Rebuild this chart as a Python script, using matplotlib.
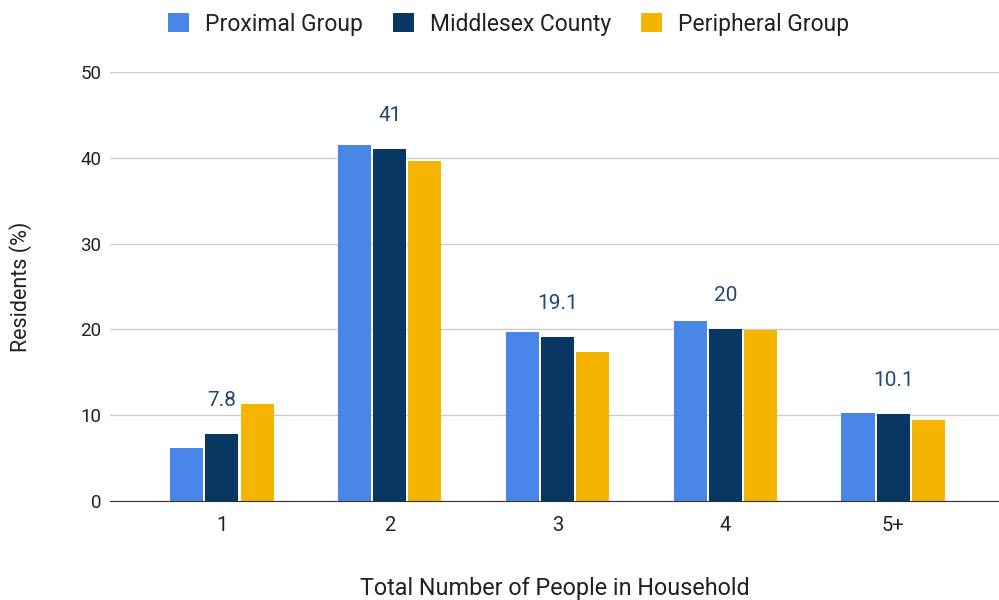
import matplotlib
matplotlib.use("Agg")
import matplotlib.pyplot as plt
import numpy as np

plt.rcParams['font.family'] = ['Roboto', 'DejaVu Sans']

categories = ["1", "2", "3", "4", "5+"]
series_names = ["Proximal Group", "Middlesex County", "Peripheral Group"]
proximal = [6.2, 41.5, 19.7, 21.0, 10.3]
middlesex = [7.8, 41, 19.1, 20, 10.1]
peripheral = [11.3, 39.6, 17.4, 19.9, 9.4]
colors = ["#4a86e8", "#073763", "#f4b400"]
yticks = [0, 10, 20, 30, 40, 50]

fig = plt.figure(figsize=(9.99, 6.0), dpi=100)
ax = fig.add_axes([0.110, 0.165, 0.890, 0.715])

x = np.arange(len(categories))
width = 0.197
step = 0.21
for i, (vals, col, name) in enumerate(zip([proximal, middlesex, peripheral], colors, series_names)):
    pos = x + (i - 1) * step
    ax.bar(pos, vals, width=width, color=col, label=name, zorder=3)

# value labels over the middle series
for xi, v in zip(x, middlesex):
    ax.annotate(f"{v:g}", (xi, v), xytext=(0, 17.5), textcoords="offset points",
                ha="center", va="bottom", fontsize=15, color="#1f4a75")

ax.set_xlim(-0.667, 4.63)
ax.set_ylim(0, 50)
ax.set_yticks(yticks)
ax.set_xticks(x)
ax.set_xticklabels(categories)
ax.grid(axis="y", color="#cccccc", linewidth=1, zorder=0)
ax.tick_params(axis="both", length=0, colors="#222222")
ax.tick_params(axis="x", pad=11, labelsize=14.5)
ax.tick_params(axis="y", pad=6, labelsize=13.5)
for s in ["top", "right", "left"]:
    ax.spines[s].set_visible(False)
ax.spines["bottom"].set_color("#333333")
ax.spines["bottom"].set_zorder(4)

ax.set_ylabel("Residents (%)", fontsize=15.5, color="#222222", va="center")
ax.yaxis.set_label_coords(-0.1, 0.5)
ax.set_xlabel("Total Number of People in Household", fontsize=16.8, color="#222222", va="center")
ax.xaxis.set_label_coords(0.5, -0.205)

leg = fig.legend(loc="center", bbox_to_anchor=(0.509, 0.96), ncol=3, frameon=False,
                 fontsize=16.5, handlelength=0.92, handleheight=0.92, handletextpad=0.7,
                 columnspacing=1.3)
for t in leg.get_texts():
    t.set_color("#222222")

fig.savefig("out.png", dpi=100)
